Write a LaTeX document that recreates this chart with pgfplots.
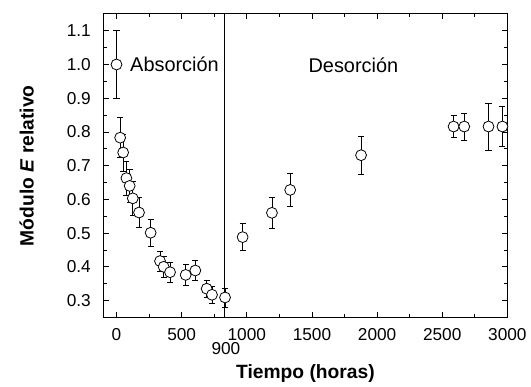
\documentclass[border=0pt]{standalone}
\usepackage{pgfplots}
\pgfplotsset{compat=1.18}
\usepackage{fontspec}
\setmainfont{Liberation Sans}
\usetikzlibrary{calc}
\begin{document}
\begin{tikzpicture}
\begin{axis}[name=ax,
  scale only axis, width=304.5pt, height=228.75pt,
  xmin=-100, xmax=3000, ymin=0.25, ymax=1.15,
  xtick={0,500,1000,1500,2000,2500,3000},
  ytick={0.3,0.4,0.5,0.6,0.7,0.8,0.9,1.0,1.1},
  yticklabels={0.3,0.4,0.5,0.6,0.7,0.8,0.9,1.0,1.1},
  minor x tick num=1, minor y tick num=1,
  tick align=inside, major tick length=4pt, minor tick length=2.3pt,
  tick style={black, line width=0.6pt},
  axis line style={line width=0.8pt},
  /pgf/number format/assume math mode=true,
  /pgf/number format/1000 sep={},
  ticklabel style={font=\fontsize{13}{15}\selectfont},
  xticklabel style={yshift=-5pt},
  yticklabel style={xshift=-6pt},
  xlabel={\textbf{Tiempo (horas)}},
  ylabel={\textbf{Módulo \textit{E} relativo}},
  label style={font=\fontsize{14.5}{16}\selectfont},
  xlabel style={yshift=-11pt},
  ylabel style={yshift=18pt},
  clip=false,
]
\draw[line width=0.6pt] (axis cs:830,0.25) -- (axis cs:830,1.15);
\node[font=\fontsize{13}{15}\selectfont, anchor=north, yshift=-18pt, inner sep=1pt] at (axis cs:840,0.25) {900};
\node[font=\fontsize{15}{17}\selectfont] at (axis cs:445,1.0) {Absorción};
\node[font=\fontsize{15}{17}\selectfont] at (axis cs:1818,0.997) {Desorción};
\addplot[only marks, mark=*, mark size=4.1pt, mark options={fill=white, draw=black, line width=0.6pt},
  error bars/.cd, y dir=both, y explicit,
  error bar style={line width=0.6pt, black},
  error mark options={rotate=90, mark size=2.3pt, line width=0.6pt, black}]
table[x=x, y=y, y error=e] {
x y e
0 1.000 0.100
28 0.783 0.060
51 0.739 0.055
76 0.663 0.050
101 0.640 0.050
125 0.603 0.050
173 0.561 0.045
262 0.501 0.040
334 0.417 0.030
362 0.400 0.030
411 0.384 0.030
531 0.376 0.030
605 0.389 0.030
692 0.335 0.025
733 0.317 0.025
833 0.309 0.028
968 0.488 0.040
1193 0.560 0.045
1333 0.628 0.050
1877 0.731 0.057
2587 0.816 0.033
2669 0.816 0.040
2855 0.816 0.070
2962 0.816 0.060
};
\end{axis}
\path ($(ax.south west)+(-78pt,-45.75pt)$) -- ($(ax.north east)+(15.75pt,10.5pt)$);
\end{tikzpicture}
\end{document}
